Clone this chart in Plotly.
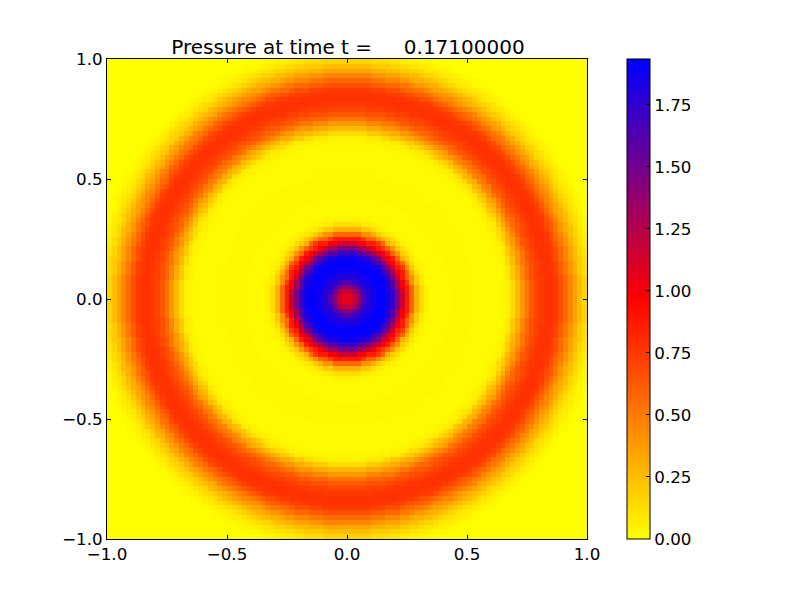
import numpy as np
import plotly.graph_objs as go

radius_step = 0.01
pressure_profile = [
    1.05, 1.06, 1.10, 1.18, 1.28, 1.40, 1.52, 1.63, 1.72, 1.79,
    1.84, 1.87, 1.90, 1.92, 1.93, 1.93, 1.92, 1.89, 1.84, 1.74,
    1.61, 1.46, 1.30, 1.15, 1.00, 0.87, 0.74, 0.58, 0.42, 0.30,
    0.20, 0.13, 0.08, 0.05, 0.03, 0.02, 0.02, 0.02, 0.02, 0.02,
    0.02, 0.02, 0.02, 0.02, 0.03, 0.03, 0.03, 0.03, 0.03, 0.03,
    0.03, 0.03, 0.03, 0.02, 0.02, 0.02, 0.02, 0.02, 0.02, 0.02,
    0.02, 0.02, 0.02, 0.02, 0.02, 0.03, 0.04, 0.05, 0.08, 0.13,
    0.20, 0.26, 0.32, 0.39, 0.46, 0.52, 0.58, 0.63, 0.67, 0.70,
    0.73, 0.75, 0.77, 0.78, 0.78, 0.78, 0.77, 0.75, 0.72, 0.67,
    0.62, 0.57, 0.52, 0.46, 0.40, 0.35, 0.30, 0.25, 0.20, 0.16,
    0.13, 0.10, 0.07, 0.05, 0.03, 0.02, 0.01, 0.00,
]
n_cells = 100
x_edges = np.linspace(-1, 1, n_cells + 1)
x_centers = (x_edges[:-1] + x_edges[1:]) / 2

z_max = 1.935
colorbar_ticks = [0.0, 0.25, 0.5, 0.75, 1.0, 1.25, 1.5, 1.75]
axis_ticks = [-1.0, -0.5, 0.0, 0.5, 1.0]
title_text = "Pressure at time t =\u00a0\u00a0\u00a0\u00a0\u00a00.17100000"

# the field is round, so each cell takes the table entry for its radius
xx, yy = np.meshgrid(x_centers, x_centers)
rr = np.sqrt(xx**2 + yy**2)
idx = np.minimum(np.rint(rr / radius_step).astype(int), len(pressure_profile) - 1)
pressure = np.array(pressure_profile)[idx]

heat = go.Heatmap(
    x=x_centers, y=x_centers, z=pressure,
    zmin=0, zmax=z_max, zsmooth=False,
    colorscale=[[0, "#ffff00"], [0.5, "#ff0000"], [1, "#0000ff"]],
    colorbar=dict(
        x=(627 - 107) / 480, xanchor="left", xpad=0, ypad=0,
        y=0.5, yanchor="middle", len=1, lenmode="fraction",
        thickness=23, thicknessmode="pixels",
        outlinecolor="black", outlinewidth=1,
        tickvals=colorbar_ticks, tickformat=".2f",
        ticks="inside", ticklen=4, tickcolor="black", tickwidth=1,
        tickfont=dict(family="DejaVu Sans", size=16.7, color="black"),
    ),
)


def axis():
    return dict(
        range=[-1, 1], tickvals=axis_ticks, tickformat=".1f",
        ticks="inside", ticklen=4, tickcolor="black", tickwidth=1,
        showline=True, linecolor="black", linewidth=1, mirror="ticks",
        showgrid=False, zeroline=False,
        tickfont=dict(family="DejaVu Sans", size=16.7, color="black"),
    )


# the page adds 8px of body margin, so everything sits 8px up and left of the target
layout = go.Layout(
    width=800, height=600,
    margin=dict(l=99, r=221, t=51, b=69),
    paper_bgcolor="white", plot_bgcolor="white",
    title=dict(
        text=title_text, x=340 / 800, xanchor="center",
        y=1 - 39 / 600, yanchor="middle",
        font=dict(family="DejaVu Sans", size=20, color="black"),
    ),
    xaxis=axis(), yaxis=axis(),
)
fig = go.Figure(data=[heat], layout=layout)
fig.write_html("out.html")
